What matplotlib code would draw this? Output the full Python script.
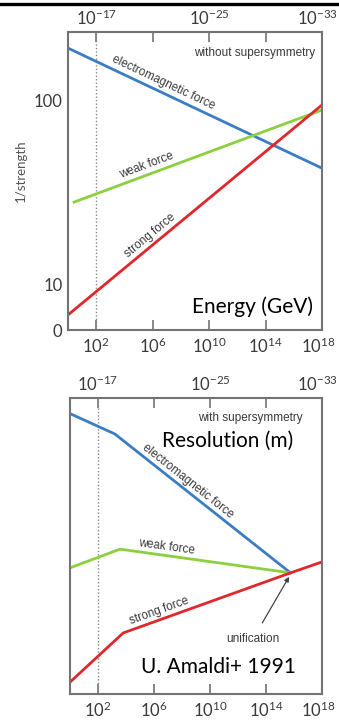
import matplotlib
matplotlib.use("Agg")
import matplotlib.pyplot as plt
from matplotlib.lines import Line2D
from matplotlib.transforms import ScaledTranslation
import numpy as np

# log10(E / GeV) axis, shared by both panels
log_e_ticks = [2, 6, 10, 14, 18]
energy_labels = ["$10^{2}$", "$10^{6}$", "$10^{10}$", "$10^{14}$", "$10^{18}$"]
resolution_labels = ["$10^{-17}$", "", "$10^{-25}$", "", "$10^{-33}$"]

# 1/strength axis: tick positions and their printed labels
y_tick_pos = [0, 10, 50]
y_tick_labels = ["0", "10", "100"]

# Standard model running (no supersymmetry)
em_x = [0.0, 18.0]
em_y = [61.5, 35.3]
weak_x = [0.43, 18.0]
weak_y = [27.9, 48.0]
strong_x = [0.0, 18.0]
strong_y = [3.3, 49.1]

# With supersymmetry (kink near 1 TeV, meet at ~10^15.75 GeV)
em_susy_x = [0.05, 3.2, 15.75]
em_susy_y = [61.5, 57.1, 26.6]
weak_susy_x = [0.0, 3.57, 15.75]
weak_susy_y = [27.7, 31.8, 26.6]
strong_susy_x = [0.0, 3.8, 15.75, 18.0]
strong_susy_y = [2.6, 13.4, 26.6, 29.0]

BLUE = "#3b7dc4"
GREEN = "#8ccf3f"
RED = "#e0282c"
SPINE = "#737373"
TEXT = "#3a3a3a"

plt.rcParams["font.family"] = ["Lato", "DejaVu Sans"]
plt.rcParams["mathtext.fontset"] = "custom"
plt.rcParams["mathtext.rm"] = "Lato"
plt.rcParams["mathtext.it"] = "Lato:italic"
plt.rcParams["mathtext.default"] = "regular"

SMALL = ["Liberation Sans Narrow", "Liberation Sans", "DejaVu Sans"]

fig = plt.figure(figsize=(3.39, 7.22), dpi=100)
fig.patch.set_facecolor("white")

# thick rule across the top
fig.add_artist(Line2D([0, 1], [0.9938, 0.9938], color="black", lw=2.4,
                      transform=fig.transFigure))


def nudge_last(labels):
    # pull the right-most label in a little so it stays on the canvas
    lab = labels[-1]
    lab.set_transform(lab.get_transform() +
                      ScaledTranslation(-3 / 72, 0, fig.dpi_scale_trans))


def style_axes(ax, show_y):
    ax.set_xlim(0, 18)
    ax.set_ylim(0, 65)
    for s in ax.spines.values():
        s.set_color(SPINE)
        s.set_linewidth(1.5)
    ax.set_xticks(log_e_ticks)
    ax.set_xticklabels(energy_labels)
    ax.tick_params(axis="x", direction="in", length=7, width=1.2,
                   color=SPINE, labelsize=12, labelcolor=TEXT, pad=5)
    nudge_last(ax.get_xticklabels())
    if show_y:
        ax.set_yticks(y_tick_pos)
        ax.set_yticklabels(y_tick_labels)
        ax.tick_params(axis="y", length=0, labelsize=12, labelcolor=TEXT, pad=4)
    else:
        ax.set_yticks([])
    top = ax.secondary_xaxis("top")
    top.set_xticks(log_e_ticks)
    top.set_xticklabels(resolution_labels)
    top.tick_params(direction="in", length=7, width=1.2, color=SPINE,
                    labelsize=12, labelcolor=TEXT, pad=3)
    top.spines["top"].set_visible(False)
    nudge_last(top.get_xticklabels())
    # 100 GeV reference line
    ax.axvline(2, color="#8a8a8a", lw=1, ls=(0, (1, 1.5)))


def line_angle(ax, x, y):
    p = ax.transData.transform(np.column_stack([x[-2:], y[-2:]]))
    d = p[1] - p[0]
    return np.degrees(np.arctan2(d[1], d[0]))


def on_line(ax, text, x, y, xs, ys):
    ang = line_angle(ax, xs, ys)
    ax.text(x, y, text, rotation=ang, rotation_mode="anchor", ha="center",
            va="center", fontsize=8.5, color=TEXT, family=SMALL)


# ---------------- top panel: without supersymmetry ----------------
ax1 = fig.add_axes([0.2006, 0.5429, 0.7493, 0.4127])
style_axes(ax1, True)
ax1.plot(em_x, em_y, color=BLUE, lw=2)
ax1.plot(weak_x, weak_y, color=GREEN, lw=2)
ax1.plot(strong_x, strong_y, color=RED, lw=2)

ax1.text(0.736, 0.93, "without supersymmetry", transform=ax1.transAxes,
         ha="center", va="center", fontsize=8.5, color=TEXT, family=SMALL)
on_line(ax1, "electromagnetic force", 6.73, 53.9, em_x, em_y)
on_line(ax1, "weak force", 5.6, 36.0, weak_x, weak_y)
on_line(ax1, "strong force", 5.85, 20.6, strong_x, strong_y)

# ---------------- bottom panel: with supersymmetry ----------------
ax2 = fig.add_axes([0.2065, 0.0388, 0.7434, 0.4100])
style_axes(ax2, False)
ax2.plot(em_susy_x, em_susy_y, color=BLUE, lw=2)
ax2.plot(weak_susy_x, weak_susy_y, color=GREEN, lw=2)
ax2.plot(strong_susy_x, strong_susy_y, color=RED, lw=2)

ax2.text(0.714, 0.932, "with supersymmetry", transform=ax2.transAxes,
         ha="center", va="center", fontsize=8.5, color=TEXT, family=SMALL)
on_line(ax2, "electromagnetic force", 8.43, 46.8, em_susy_x, em_susy_y)
on_line(ax2, "weak force", 6.93, 32.3, weak_susy_x, weak_susy_y)
on_line(ax2, "strong force", 6.36, 18.2, strong_susy_x[:3], strong_susy_y[:3])

ax2.annotate("unification", xy=(15.7, 26.0), xytext=(13.07, 12.1),
             ha="center", va="center", fontsize=8.5, color=TEXT, family=SMALL,
             arrowprops=dict(arrowstyle="-|>", color="#444444", lw=0.9,
                             mutation_scale=7, shrinkA=6, shrinkB=1))

# y label and big captions
fig.text(0.062, 0.763, "1/strength", rotation=90, ha="center", va="center",
         fontsize=9.5, color="#555555")
fig.text(0.923, 0.575, "Energy (GeV)", ha="right", va="center", fontsize=15,
         color="black")
fig.text(0.671, 0.389, "Resolution (m)", ha="center", va="center", fontsize=15,
         color="black")
fig.text(0.645, 0.0762, "U. Amaldi+ 1991", ha="center", va="center",
         fontsize=15, color="black")

fig.savefig("out.png", dpi=100)
